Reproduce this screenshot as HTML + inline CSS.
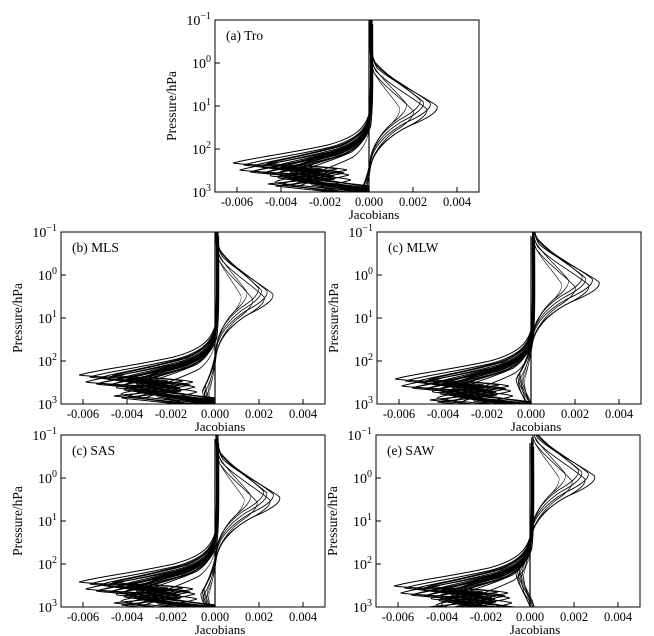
<!DOCTYPE html>
<html><head><meta charset="utf-8"><style>
body{margin:0;background:#fff}
svg{display:block;font-family:"Liberation Serif",serif}
</style></head><body>
<svg width="654" height="636" xmlns="http://www.w3.org/2000/svg" xmlns:xlink="http://www.w3.org/1999/xlink">
<defs>
<clipPath id="cl"><rect x="-154" y="0" width="264" height="172"/></clipPath>
<path id="neg" fill="none" stroke="#000" stroke-width="1" d="M2 0 C2 40 3 80 0 100 C-4 115 -15 124 -40 131 C-80 140 -115 144 -132 149 C-120 151 -80 152 -60 154 C-80 157 -100 160 -95 162 C-70 165 -25 168 0 172"/>
<path id="neg2" fill="none" stroke="#000" stroke-width="1" d="M4 0 C4 40 5 80 2 100 C-2 112 -12 122 -35 130 C-70 138 -105 143 -125 147 C-110 150 -60 150 -40 153 C-60 156 -95 158 -110 160 C-80 163 -30 167 0 170"/>
<path id="pos" fill="none" stroke="#000" stroke-width="0.9" d="M0 -90 C1 -60 2 -50 8 -40 C25 -25 55 -12 68 -2 C70 3 60 10 40 18 C20 28 6 40 2 55 C0 70 -8 85 -15 95 C-12 110 -2 120 4 130 C8 140 2 148 0 150"/>
<g id="negb">
<use xlink:href="#neg" transform="translate(0,-6) scale(1.03,1)"/>
<use xlink:href="#neg" transform="translate(0,-4) scale(0.95,1)"/>
<use xlink:href="#neg" transform="translate(0,-3) scale(0.88,1)"/>
<use xlink:href="#neg" transform="translate(0,-2) scale(0.82,1)"/>
<use xlink:href="#neg" transform="translate(0,-1) scale(0.76,1)"/>
<use xlink:href="#neg" transform="translate(0,0) scale(0.7,1)"/>
<use xlink:href="#neg" transform="translate(0,1) scale(0.64,1)"/>
<use xlink:href="#neg" transform="translate(0,2) scale(0.58,1)"/>
<use xlink:href="#neg" transform="translate(0,3) scale(0.9,1)"/>
<use xlink:href="#neg" transform="translate(0,4) scale(0.8,1)"/>
<use xlink:href="#neg" transform="translate(0,5) scale(0.72,1)"/>
<use xlink:href="#neg" transform="translate(0,-5) scale(0.78,1)"/>
<use xlink:href="#neg" transform="translate(0,-2) scale(0.66,1)"/>
<use xlink:href="#neg" transform="translate(0,1) scale(0.98,1)"/>
<use xlink:href="#neg" transform="translate(0,3) scale(0.6,1)"/>
<use xlink:href="#neg2" transform="translate(0,-3) scale(0.55,1)"/>
<use xlink:href="#neg2" transform="translate(0,6) scale(0.85,1)"/>
<use xlink:href="#neg2" transform="translate(0,2) scale(0.5,1)"/>
<use xlink:href="#neg2" transform="translate(0,-1) scale(0.7,1)"/>
<use xlink:href="#neg2" transform="translate(0,4) scale(0.92,1)"/>
<use xlink:href="#neg2" transform="translate(0,0) scale(0.62,1)"/>
<use xlink:href="#neg2" transform="translate(0,-4) scale(0.8,1)"/>
<use xlink:href="#neg2" transform="translate(0,7) scale(0.45,1)"/>
<path d="M0 0V172" stroke="#000" stroke-width="1.2"/>
</g>
<g id="posb">
<use xlink:href="#pos" transform="scale(1,1)"/>
<use xlink:href="#pos" transform="translate(0,-3) scale(0.9,1)"/>
<use xlink:href="#pos" transform="translate(0,3) scale(0.85,1)"/>
<use xlink:href="#pos" transform="translate(0,-6) scale(0.75,1)"/>
<use xlink:href="#pos" transform="translate(0,5) scale(0.65,1)"/>
<use xlink:href="#pos" transform="translate(0,-2) scale(0.55,1)"/>
<use xlink:href="#pos" transform="translate(0,2) scale(0.45,1)"/>
<use xlink:href="#pos" transform="translate(0,-4) scale(0.8,1)"/>
</g>
<g id="axes" font-size="14">
<rect x="-154" y="0" width="264" height="172" fill="none" stroke="#000"/>
<g stroke="#000">
<line x1="-154" y1="0" x2="-149" y2="0"/><line x1="-154" y1="43" x2="-149" y2="43"/><line x1="-154" y1="86" x2="-149" y2="86"/><line x1="-154" y1="129" x2="-149" y2="129"/>
<line x1="-132" y1="172" x2="-132" y2="167"/><line x1="-88" y1="172" x2="-88" y2="167"/><line x1="-44" y1="172" x2="-44" y2="167"/><line x1="0" y1="172" x2="0" y2="167"/><line x1="44" y1="172" x2="44" y2="167"/><line x1="88" y1="172" x2="88" y2="167"/>
</g>
<text x="-158" y="5" text-anchor="end">10<tspan dy="-6" font-size="10">−1</tspan></text>
<text x="-158" y="48" text-anchor="end">10<tspan dy="-6" font-size="10">0</tspan></text>
<text x="-158" y="91" text-anchor="end">10<tspan dy="-6" font-size="10">1</tspan></text>
<text x="-158" y="134" text-anchor="end">10<tspan dy="-6" font-size="10">2</tspan></text>
<text x="-158" y="177" text-anchor="end">10<tspan dy="-6" font-size="10">3</tspan></text>
<g font-size="12.5" text-anchor="middle">
<text x="-132" y="186">-0.006</text><text x="-88" y="186">-0.004</text><text x="-44" y="186">-0.002</text><text x="0" y="186">0.000</text><text x="44" y="186">0.002</text><text x="88" y="186">0.004</text>
</g>
<text x="5" y="199" font-size="13" text-anchor="middle">Jacobians</text>
<text transform="translate(-193,86) rotate(-90)" font-size="13.5" text-anchor="middle">Pressure/hPa</text>
</g>
</defs>

<g transform="translate(369,20)">
<g clip-path="url(#cl)"><use xlink:href="#negb"/><use xlink:href="#posb" transform="translate(0,88)"/></g>
<use xlink:href="#axes"/><text x="-143" y="20" font-size="13.5">(a) Tro</text>
</g>
<g transform="translate(215,232)">
<g clip-path="url(#cl)"><use xlink:href="#negb"/><use xlink:href="#posb" transform="translate(0,64) scale(0.85,1)"/></g>
<use xlink:href="#axes"/><text x="-143" y="20" font-size="13.5">(b) MLS</text>
</g>
<g transform="translate(531,232)">
<g clip-path="url(#cl)"><use xlink:href="#negb" transform="translate(0,4)"/><use xlink:href="#posb" transform="translate(0,52)"/></g>
<use xlink:href="#axes"/><text x="-143" y="20" font-size="13.5">(c) MLW</text>
</g>
<g transform="translate(215,435)">
<g clip-path="url(#cl)"><use xlink:href="#negb" transform="translate(0,4)"/><use xlink:href="#posb" transform="translate(0,64) scale(0.95,1)"/></g>
<use xlink:href="#axes"/><text x="-143" y="20" font-size="13.5">(c) SAS</text>
</g>
<g transform="translate(530,435)">
<g clip-path="url(#cl)"><use xlink:href="#negb" transform="translate(0,8)"/><use xlink:href="#posb" transform="translate(0,43) scale(0.95,1)"/></g>
<use xlink:href="#axes"/><text x="-143" y="20" font-size="13.5">(e) SAW</text>
</g>
</svg>
</body></html>
